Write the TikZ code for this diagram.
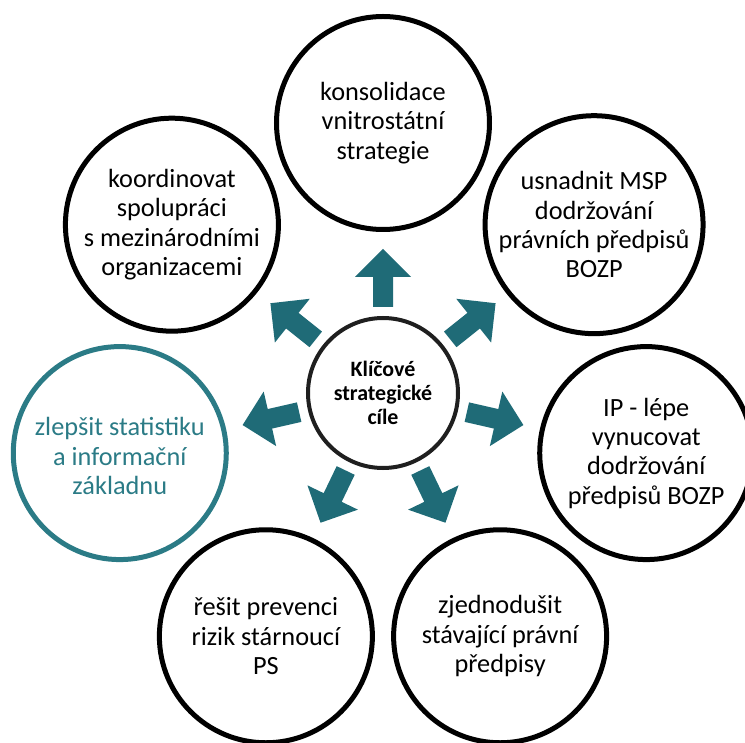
\documentclass[tikz,border=0pt]{standalone}
\usepackage{fontspec}
\setmainfont{Carlito}
\definecolor{arrowteal}{HTML}{1F6B77}
\definecolor{ringteal}{HTML}{2B7B86}
\tikzset{
  goal/.style={circle, draw=black, line width=5bp, minimum size=213bp, inner sep=0pt,
    align=center, font=\fontsize{26.4}{29.5}\selectfont},
  hub/.style={circle, draw=black!88, line width=4bp, minimum size=150bp, inner sep=0pt,
    align=center, font=\bfseries\fontsize{22}{24}\selectfont},
  blockarrow/.style={fill=arrowteal}
}
\begin{document}
\begin{tikzpicture}[x=1bp,y=1bp]
\clip (-383,-350) rectangle (362,393);
\node[hub] (hub) at (0,0) {Klíčové\\strategické\\cíle};
\node[goal] (kons) at (90:270) {konsolidace\\vnitrostátní\\strategie};
\node[goal] (koord) at (141.43:270) {koordinovat\\spolupráci\\s mezinárodními\\organizacemi};
\node[goal, draw=ringteal] (stat) at (192.86:270) {};
\node[align=center, text=ringteal, font=\fontsize{26.4}{29.5}\selectfont] (stattext) at ([yshift=-3bp]stat.center) {zlepšit statistiku\\a informační\\základnu};
\node[goal] (ps) at (244.29:270) {řešit prevenci\\rizik stárnoucí\\PS};
\node[goal] (pred) at (-64.29:270) {zjednodušit\\stávající právní\\předpisy};
\node[goal] (ip) at (-12.86:270) {IP - lépe\\vynucovat\\dodržování\\předpisů BOZP};
\node[goal] (msp) at (38.57:270) {usnadnit MSP\\dodržování\\právních předpisů\\BOZP};
\foreach \a in {90,141.43,192.86,244.29,-64.29,-12.86,38.57}
  \fill[blockarrow, shift={(hub.center)}, rotate=\a]
    (86,-10) -- (116,-10) -- (116,-28) -- (144,0) -- (116,28) -- (116,10) -- (86,10) -- cycle;
\end{tikzpicture}
\end{document}
